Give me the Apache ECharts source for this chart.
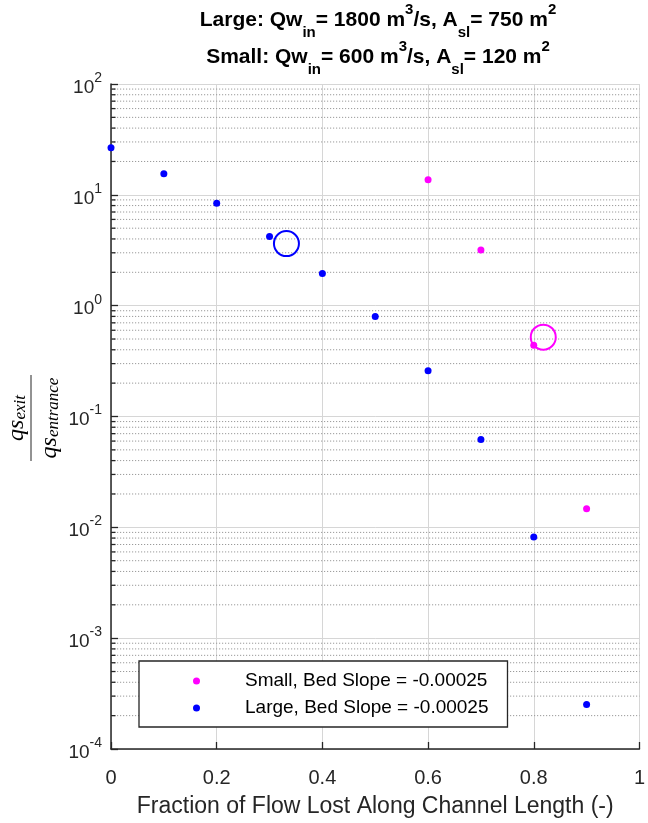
<!DOCTYPE html>
<html>
<head>
<meta charset="utf-8">
<script src="https://cdn.jsdelivr.net/npm/echarts@6/dist/echarts.min.js"></script>
<style>
html,body{margin:0;padding:0;background:#fff;}
#chart{width:648px;height:823px;}
</style>
</head>
<body>
<div id="chart"></div>
<script>
// ---- data ----
const largeX = [0, 0.1, 0.2, 0.3, 0.4, 0.5, 0.6, 0.7, 0.8, 0.9];
const largeY = [26.6, 15.5, 8.4, 4.2, 1.95, 0.80, 0.259, 0.0621, 0.00819, 0.000252];
const smallX = [0.6, 0.7, 0.8, 0.9];
const smallY = [13.7, 3.18, 0.44, 0.0147];
const largeCircle = [0.332, 3.63];
const smallCircle = [0.818, 0.52];
const largeName = 'Large, Bed Slope = -0.00025';
const smallName = 'Small, Bed Slope = -0.00025';
const xTicks = [0, 0.2, 0.4, 0.6, 0.8, 1];
const decades = [-4, -3, -2, -1, 0, 1];
const minorMult = [2, 3, 4, 5, 6, 7, 8, 9];

const minorVals = [];
decades.forEach(d => minorMult.forEach(m => minorVals.push(m * Math.pow(10, d))));

const FONT = 'Liberation Sans, Arial, sans-serif';
const SERIF = 'Liberation Serif, Times New Roman, serif';
const AX = '#262626';

const chart = echarts.init(document.getElementById('chart'), null, {renderer: 'canvas'});

const titleRich = {
  b: {fontSize: 21, fontWeight: 'bold', fontFamily: FONT, color: '#000', lineHeight: 40, verticalAlign: 'middle'},
  sup: {fontSize: 15, fontWeight: 'bold', fontFamily: FONT, color: '#000', lineHeight: 15, verticalAlign: 'top', padding: [2, 0, 0, 0]},
  sub: {fontSize: 15, fontWeight: 'bold', fontFamily: FONT, color: '#000', lineHeight: 15, verticalAlign: 'bottom'}
};
const fracRich = {
  q: {fontSize: 24, fontStyle: 'italic', fontFamily: SERIF, color: AX, lineHeight: 30, verticalAlign: 'bottom'},
  s: {fontSize: 17, fontStyle: 'italic', fontFamily: SERIF, color: AX, lineHeight: 20, verticalAlign: 'bottom'}
};

const option = {
  animation: false,
  backgroundColor: '#fff',
  grid: {left: 111, right: 2, top: 84, bottom: 71, containLabel: false},
  graphic: [
    {type: 'text', x: 378, y: 0, style: {
      text: '{b|Large: Qw}{sub|in}{b|= 1800 m}{sup|3}{b|/s, A}{sub|sl}{b|= 750 m}{sup|2}',
      rich: titleRich, align: 'center', verticalAlign: 'top'}},
    {type: 'text', x: 378, y: 37, style: {
      text: '{b|Small: Qw}{sub|in}{b|= 600 m}{sup|3}{b|/s, A}{sub|sl}{b|= 120 m}{sup|2}',
      rich: titleRich, align: 'center', verticalAlign: 'top'}},
    {type: 'group', x: 31, y: 418, rotation: Math.PI / 2, children: [
      {type: 'line', shape: {x1: -43, y1: 0, x2: 43, y2: 0}, style: {stroke: AX, lineWidth: 1}},
      {type: 'text', x: 0, y: -2, style: {text: '{q|qs}{s|exit}', rich: fracRich, align: 'center', verticalAlign: 'bottom'}},
      {type: 'text', x: 0, y: 1, style: {text: '{q|qs}{s|entrance}', rich: fracRich, align: 'center', verticalAlign: 'top'}}
    ]}
  ],
  legend: {
    orient: 'vertical', left: 139, top: 661,
    padding: [10, 19, 9, 54],
    itemWidth: 7, itemHeight: 7, itemGap: 7,
    borderColor: AX, borderWidth: 1.3, backgroundColor: '#fff',
    selectedMode: false,
    textStyle: {fontSize: 19, fontFamily: FONT, color: '#000', lineHeight: 20, padding: [0, 0, 0, 40]},
    data: [smallName, largeName],
    z: 10
  },
  xAxis: {
    type: 'value', min: 0, max: 1, interval: 0.2,
    name: 'Fraction of Flow Lost Along Channel Length (-)',
    nameLocation: 'middle', nameGap: 46,
    nameTextStyle: {fontSize: 23, fontFamily: FONT, color: AX},
    axisLine: {show: true, onZero: false, lineStyle: {color: AX, width: 1.5}},
    axisTick: {show: true, inside: true, length: 7, lineStyle: {color: AX, width: 1.3}},
    axisLabel: {fontSize: 20, fontFamily: FONT, color: AX, margin: 19,
      formatter: v => String(Math.round(v * 10) / 10), showMaxLabel: true, showMinLabel: true},
    splitLine: {show: true, lineStyle: {color: '#d6d6d6', width: 1}}
  },
  yAxis: {
    type: 'log', logBase: 10, min: 1e-4, max: 100,
    axisLine: {show: true, lineStyle: {color: AX, width: 1.5}},
    axisTick: {show: true, inside: true, length: 7, lineStyle: {color: AX, width: 1.3}},
    axisLabel: {margin: 9, formatter: v => '{b|10}{s|' + Math.round(Math.log10(v)) + '}',
      rich: {
        b: {fontSize: 19, fontFamily: FONT, color: AX, lineHeight: 26, verticalAlign: 'bottom'},
        s: {fontSize: 14, fontFamily: FONT, color: AX, lineHeight: 14, verticalAlign: 'top'}
      }},
    splitLine: {show: true, lineStyle: {color: '#d6d6d6', width: 1}},
    minorTick: {show: false}, minorSplitLine: {show: false}
  },
  series: [
    {
      type: 'custom', silent: true, z: 1, clip: false,
      data: minorVals.map(v => [0, v]),
      renderItem: (params, api) => {
        const y = api.value(1);
        const a = api.coord([0, y]);
        const b = api.coord([1, y]);
        return {type: 'group', children: [
          {type: 'line', shape: {x1: a[0], y1: a[1], x2: b[0], y2: b[1]},
            style: {stroke: '#9a9a9a', lineWidth: 1, lineDash: [1.2, 1.8]}},
          {type: 'line', shape: {x1: a[0], y1: a[1], x2: a[0] + 4.5, y2: a[1]},
            style: {stroke: AX, lineWidth: 1.3}}
        ]};
      }
    },
    {
      name: smallName, type: 'scatter', symbol: 'circle', symbolSize: 7, z: 5,
      itemStyle: {color: '#ff00ff', opacity: 1},
      data: smallX.map((x, i) => [x, smallY[i]])
    },
    {
      name: largeName, type: 'scatter', symbol: 'circle', symbolSize: 7, z: 5,
      itemStyle: {color: '#0000ff', opacity: 1},
      data: largeX.map((x, i) => [x, largeY[i]])
    },
    {
      type: 'scatter', symbol: 'circle', symbolSize: 25, z: 6, silent: true,
      itemStyle: {color: 'rgba(0,0,0,0)', borderColor: '#0000ff', borderWidth: 2, opacity: 1},
      data: [largeCircle]
    },
    {
      type: 'scatter', symbol: 'circle', symbolSize: 25, z: 6, silent: true,
      itemStyle: {color: 'rgba(0,0,0,0)', borderColor: '#ff00ff', borderWidth: 2, opacity: 1},
      data: [smallCircle]
    }
  ]
};
chart.setOption(option);
</script>
</body>
</html>
